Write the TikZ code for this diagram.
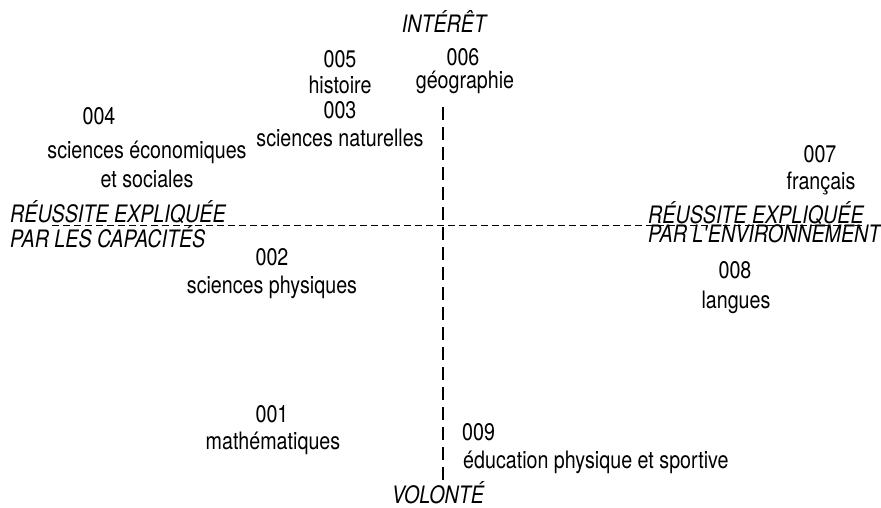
\documentclass[tikz,border=0pt]{standalone}
\usepackage{fontspec}
\setmainfont{TeX Gyre Heros}[FakeStretch=0.82]
\begin{document}
\begin{tikzpicture}[x=1pt, y=-1pt,
	every node/.style={inner sep=0, anchor=base, font=\fontsize{24}{26}\selectfont},
	pole/.style={font=\fontsize{24}{26}\selectfont\itshape},
	hdash/.style={line width=0.8pt, dash pattern=on 7pt off 4pt},
	vdash/.style={line width=1.6pt, dash pattern=on 13pt off 7pt}]
	\useasboundingbox (0, 0) rectangle (881, 507);

	\node at (444, 32)  (INT)  [pole] {INTÉRÊT};
	\node at (438, 503) (VOL)  [pole] {VOLONTÉ};
	\node at (10, 222)  (CAP1) [pole, anchor=base west] {RÉUSSITE EXPLIQUÉE};
	\node at (10, 247)  (CAP2) [pole, anchor=base west] {PAR LES CAPACITÉS};
	\node at (648, 223) (ENV1) [pole, anchor=base west] {RÉUSSITE EXPLIQUÉE};
	\node at (648, 242) (ENV2) [pole, anchor=base west] {PAR L\textquotesingle ENVIRONNEMENT};

	\node at (340, 67)  (C005)  {005};
	\node at (340, 93)  (L005)  {histoire};
	\node at (340, 118) (C003)  {003};
	\node at (340, 146) (L003)  {sciences naturelles};
	\node at (463, 65)  (C006)  {006};
	\node at (465, 88)  (L006)  {géographie};
	\node at (99, 124)  (C004)  {004};
	\node at (147, 158) (L004a) {sciences économiques};
	\node at (147, 187) (L004b) {et sociales};
	\node at (820, 162) (C007)  {007};
	\node at (821, 189) (L007)  {français};
	\node at (272, 265) (C002)  {002};
	\node at (272, 293) (L002)  {sciences physiques};
	\node at (735, 278) (C008)  {008};
	\node at (736, 308) (L008)  {langues};
	\node at (272, 422) (C001)  {001};
	\node at (273, 449) (L001)  {mathématiques};
	\node at (462, 440) (C009)  [anchor=base west] {009};
	\node at (463, 468) (L009)  [anchor=base west] {éducation physique et sportive};

	\coordinate (AXT) at (443, 107);
	\coordinate (AXB) at (443, 482);
	\coordinate (AXL) at (52, 225);
	\coordinate (AXR) at (862, 225);

	\draw [vdash] (AXT) -- (AXB);
	\draw [hdash] (AXL) -- (AXR);
\end{tikzpicture}
\end{document}
